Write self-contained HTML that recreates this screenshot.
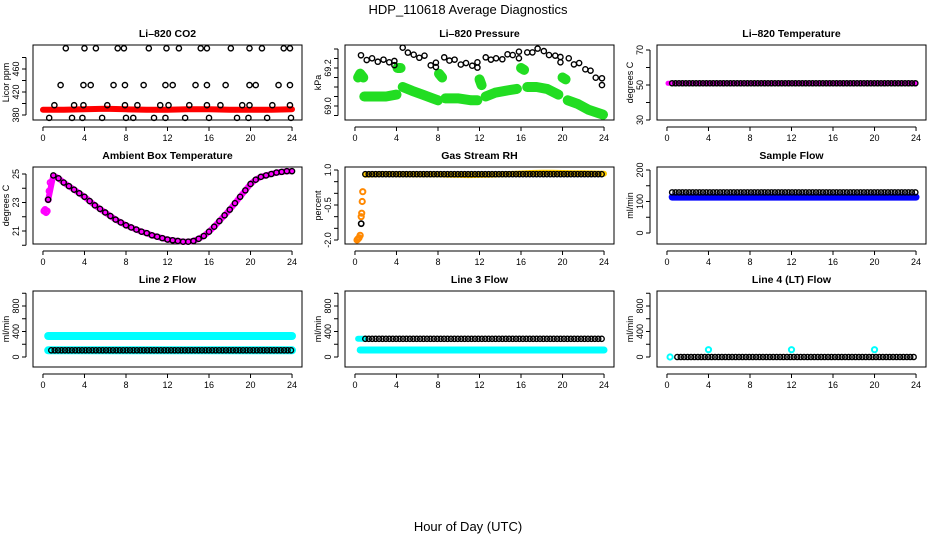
<!DOCTYPE html>
<html><head><meta charset="utf-8">
<style>
html,body{margin:0;padding:0;background:#fff;}
svg{display:block;font-family:"Liberation Sans",Arial,sans-serif;}
</style></head>
<body>
<svg id="chart" width="936" height="540" viewBox="0 0 936 540" xmlns="http://www.w3.org/2000/svg">
<text x="468" y="14" text-anchor="middle" font-size="13">HDP_110618  Average Diagnostics</text>
<text x="468" y="531" text-anchor="middle" font-size="13">Hour of Day (UTC)</text>
</svg>
<script>
// ---- data ----
const xTicks = [0,4,8,12,16,20,24];
const co2TopHrs = [2.2,4.0,5.1,7.2,7.8,10.2,11.9,13.1,15.2,15.8,18.1,19.9,21.1,23.2,23.8];
const co2MidHrs = [1.7,3.9,4.6,6.8,7.9,9.7,11.8,12.5,14.7,15.8,17.6,19.9,20.5,22.7,23.8];
const co2LowHrs = [1.1,3.0,3.9,6.2,7.9,9.1,11.3,12.1,14.1,15.8,17.1,19.2,19.9,22.1,23.8];
const co2BotHrs = [0.6,2.8,3.8,5.7,8.0,8.7,10.7,11.8,13.7,16.0,18.7,19.8,21.6,23.9];
const co2Levels = [496,432,397,375];
const co2RedHrs = [0,2,4,6,8,10,12,14,16,18,20,22,24];
const co2RedVals = [389,389,390,391,390,389,389,390,390,389,389,389,390];

const presHrs = [0.58,1.13,1.65,2.2,2.75,3.3,3.8,3.8,4.6,5.1,5.66,6.2,6.7,7.3,7.8,7.8,8.6,9.1,9.6,10.2,10.7,11.3,11.8,11.8,12.6,13.1,13.6,14.2,14.7,15.2,15.8,15.8,16.6,17.1,17.6,18.2,18.7,19.3,19.8,19.8,20.6,21.1,21.6,22.2,22.7,23.2,23.8,23.8];
const presVals = [69.267,69.242,69.251,69.233,69.244,69.230,69.237,69.215,69.307,69.281,69.270,69.254,69.265,69.214,69.228,69.205,69.256,69.239,69.244,69.218,69.226,69.212,69.230,69.202,69.256,69.244,69.251,69.246,69.272,69.268,69.286,69.251,69.282,69.282,69.302,69.289,69.268,69.265,69.258,69.230,69.251,69.219,69.226,69.193,69.186,69.149,69.146,69.110];
const greenSegs = [
 {h:[0.3,0.5,0.8], v:[69.15,69.17,69.15]},
 {h:[0.9,2,3,4], v:[69.05,69.05,69.05,69.06]},
 {h:[4.1,4.4], v:[69.20,69.20]},
 {h:[4.6,5.5,6.5,7.5,8], v:[69.10,69.08,69.06,69.04,69.03]},
 {h:[8.1,8.4], v:[69.17,69.15]},
 {h:[8.7,10,11.2,11.8], v:[69.04,69.04,69.03,69.03]},
 {h:[12,12.2], v:[69.14,69.11]},
 {h:[12.6,13.5,14.5,15.6], v:[69.05,69.07,69.08,69.09]},
 {h:[16,16.3], v:[69.20,69.19]},
 {h:[16.6,17.5,18.5,19.6], v:[69.10,69.10,69.09,69.06]},
 {h:[20,20.3], v:[69.15,69.14]},
 {h:[20.5,21.5,22.5,23.9], v:[69.03,69.01,68.98,68.955]}
];

const tempHrs = [0.1,24];
const tempVals = [51,51];

const ambHrs = [0.5,1,1.5,2,2.5,3,3.5,4,4.5,5,5.5,6,6.5,7,7.5,8,8.5,9,9.5,10,10.5,11,11.5,12,12.5,13,13.5,14,14.5,15,15.5,16,16.5,17,17.5,18,18.5,19,19.5,20,20.5,21,21.5,22,22.5,23,23.5,24];
const ambVals = [23.2,24.9,24.7,24.4,24.15,23.9,23.65,23.4,23.1,22.8,22.55,22.3,22.05,21.8,21.6,21.4,21.25,21.1,20.95,20.85,20.7,20.6,20.5,20.4,20.35,20.3,20.25,20.25,20.3,20.45,20.65,20.95,21.3,21.7,22.1,22.5,22.95,23.4,23.85,24.3,24.6,24.8,24.9,25.0,25.1,25.15,25.2,25.2];
const ambEarlyHrs = [0.1,0.2,0.3,0.4,0.5,0.6,0.7];
const ambEarlyVals = [22.4,22.5,22.3,22.4,23.2,23.8,24.4];

const rhHrs = [0.6,1,2,3,4,5,6,7,8,9,10,11,12,13,14,15,16,17,18,19,20,21,22,23,24];
const rhVals = [-1.3,0.8,0.82,0.83,0.82,0.82,0.81,0.81,0.81,0.8,0.79,0.78,0.79,0.8,0.81,0.83,0.85,0.87,0.88,0.88,0.87,0.86,0.86,0.85,0.84];
const rhEarlyHrs = [0.2,0.3,0.4,0.5,0.6,0.65,0.7,0.75];
const rhEarlyVals = [-2.0,-1.95,-1.9,-1.8,-1.0,-0.85,-0.35,0.07];

const sfBlackVals = [129,129];
const sfBlueVals = [114,114];
const l2CyanVals = [330,330];
const l2BlackVals = [105,105];
const l3BlackVals = [285,285];
const l3CyanVals = [110,110];
const l4Vals = [0,0];
const l4SpikeHrs = [4,12,20];
const l4SpikeVals = [115,115,115];
const fullHrs = [0.5,24];

// ---- layout ----
const svg = document.getElementById('chart');
const NS = 'http://www.w3.org/2000/svg';
const colX = [33,345,657], W = 269;
const rowY = [[45,120],[167,244],[291,367]];
function mk(tag, attrs, parent){ const e=document.createElementNS(NS,tag); for(const k in attrs) e.setAttribute(k,attrs[k]); (parent||svg).appendChild(e); return e; }

function panel(c, r, title, ylab, yA, yB, yTicks, yLabels, name){
  const g = mk('g',{});
  
  
  const x0=colX[c], x1=x0+W, y0=rowY[r][0], y1=rowY[r][1];
  const xs = h => x0 + (h+0.96)/25.92*W;
  const ys = v => yA[1] + (v-yA[0])*(yB[1]-yA[1])/(yB[0]-yA[0]);
  const box = mk('rect',{x:x0,y:y0,width:W,height:y1-y0,fill:'none',stroke:'#000','stroke-width':1},g);
  
  
  const t = mk('text',{x:x0+W/2,y:y0-8,'text-anchor':'middle','font-size':10.5,'font-weight':'bold'},g);
  t.textContent = title;
  
  
  const xl = mk('line',{x1:xs(0),x2:xs(24),y1:y1+7,y2:y1+7,stroke:'#000'},g);
  
  
  xTicks.forEach(v=>{
    mk('line',{x1:xs(v),x2:xs(v),y1:y1+7,y2:y1+11,stroke:'#000'},g);
    const tt = mk('text',{x:xs(v),y:y1+21,'text-anchor':'middle','font-size':9},g);
    tt.textContent = v;
    
    
  });
  const ax = x0-7;
  const yl = mk('line',{x1:ax,x2:ax,y1:ys(yTicks[0]),y2:ys(yTicks[yTicks.length-1]),stroke:'#000'},g);
  
  
  yTicks.forEach((v,i)=>{
    mk('line',{x1:ax-4,x2:ax,y1:ys(v),y2:ys(v),stroke:'#000'},g);
    if(yLabels[i]!==''){
      const tt = mk('text',{x:0,y:0,'text-anchor':'middle','font-size':9,transform:`translate(${ax-7},${ys(v)}) rotate(-90)`},g);
      tt.textContent = yLabels[i];
      
      
    }
  });
  const yt = mk('text',{x:0,y:0,'text-anchor':'middle','font-size':9,transform:`translate(${x0-24},${(y0+y1)/2}) rotate(-90)`},g);
  yt.textContent = ylab;
  
  
  return {g,xs,ys};
}
function circles(p, hrs, vals, color, r, sw, name){
  hrs.forEach((h,i)=>{
    const c = mk('circle',{cx:p.xs(h),cy:p.ys(vals[i]),r:r||2.6,fill:'none',stroke:color,'stroke-width':sw||1.4},p.g);
    
    
  });
}
function band(p, hrs, vals, color, w, name){
  const pts = hrs.map((h,i)=>p.xs(h).toFixed(1)+','+p.ys(vals[i]).toFixed(1)).join(' ');
  const l = mk('polyline',{points:pts,fill:'none',stroke:color,'stroke-width':w,'stroke-linejoin':'round','stroke-linecap':'round'},p.g);
  
  
}
// evenly spaced circles along a constant/explicit series
function dense(p, hrs2, vals2, step, color, name){
  const hs=[], vs=[];
  for(let h=hrs2[0]; h<=hrs2[1]+1e-6; h+=step){ hs.push(h); vs.push(vals2[0]); }
  circles(p, hs, vs, color, 2.6, 1.4, name);
}

// Li-820 CO2
let p = panel(0,0,'Li\u2013820 CO2','Licor ppm',[380,115],[420,92],[380,400,420,440,460,480],['380','','420','','460',''],'co2');
band(p, co2RedHrs, co2RedVals, '#ff0000', 6, 'co2-red-series');
[co2TopHrs,co2MidHrs,co2LowHrs,co2BotHrs].forEach((hs,k)=>circles(p, hs, hs.map(()=>co2Levels[k]), '#000', 2.6, 1.4, 'co2-point'));

// Pressure
p = panel(1,0,'Li\u2013820 Pressure','kPa',[69.0,106],[69.2,68],[68.95,69.0,69.05,69.1,69.15,69.2,69.25,69.3],['','69.0','','','','69.2','',''],'pressure');
greenSegs.forEach(s=>band(p, s.h, s.v, '#22dd22', 10, 'pressure-green-series'));
circles(p, presHrs, presVals, '#000', 2.6, 1.4, 'pressure-point');

// Temperature
p = panel(2,0,'Li\u2013820 Temperature','degrees C',[50,85],[70,50],[30,40,50,60,70],['30','','50','','70'],'li820-temp');
band(p, tempHrs, tempVals, '#ff00ff', 5, 'temp-magenta-series');
dense(p, [0.5,24], tempVals, 0.33, '#000', 'temp-point');

// Ambient
p = panel(0,1,'Ambient Box Temperature','degrees C',[21,231],[25,174],[20,21,22,23,24,25],['','21','','23','','25'],'ambient');
band(p, ambHrs, ambVals, '#ff00ff', 6, 'ambient-magenta-series');
circles(p, ambEarlyHrs, ambEarlyVals, '#ff00ff', 2.6, 2, 'ambient-early-point');
circles(p, ambHrs, ambVals, '#000', 2.6, 1.4, 'ambient-point');

// RH
p = panel(1,1,'Gas Stream RH','percent',[1.0,170],[-2.0,240],[1.0,0.5,0.0,-0.5,-1.0,-1.5,-2.0],['1.0','','','-0.5','','','-2.0'],'rh');
band(p, rhHrs.slice(1), rhVals.slice(1), '#ffcc00', 6, 'rh-yellow-series');
circles(p, rhEarlyHrs, rhEarlyVals, '#ff8800', 2.6, 2, 'rh-early-point');
dense(p, [1,24], [0.82], 0.33, '#000', 'rh-point');
circles(p, rhHrs.slice(0,1), rhVals.slice(0,1), '#000', 2.6, 1.6, 'rh-early-black-point');

// Sample flow
p = panel(2,1,'Sample Flow','ml/min',[0,233],[200,170],[0,50,100,150,200],['0','','100','','200'],'sample-flow');
band(p, fullHrs, sfBlueVals, '#0000ff', 7, 'sample-flow-blue-series');
dense(p, [0.5,24], sfBlackVals, 0.33, '#000', 'sample-flow-point');

// Line 2
p = panel(0,2,'Line 2 Flow','ml/min',[0,357],[800,306],[0,200,400,600,800,1000],['0','','400','','800',''],'line2');
band(p, fullHrs, l2CyanVals, '#00ffff', 8, 'line2-cyan-series');
band(p, fullHrs, l2BlackVals, '#00ffff', 8, 'line2-cyan-low-series');
dense(p, [0.8,24], l2BlackVals, 0.33, '#000', 'line2-point');

// Line 3
p = panel(1,2,'Line 3 Flow','ml/min',[0,357],[800,306],[0,200,400,600,800,1000],['0','','400','','800',''],'line3');
band(p, fullHrs, l3CyanVals, '#00ffff', 7, 'line3-cyan-series');
band(p, [0.3,1], l3BlackVals, '#00ffff', 6, 'line3-cyan-top');
dense(p, [1,24], l3BlackVals, 0.33, '#000', 'line3-point');

// Line 4
p = panel(2,2,'Line 4 (LT) Flow','ml/min',[0,357],[800,306],[0,200,400,600,800,1000],['0','','400','','800',''],'line4');
circles(p, [0.3], [0], '#00ffff', 2.6, 2, 'line4-cyan-point');
dense(p, [1,24], l4Vals, 0.33, '#000', 'line4-point');
circles(p, l4SpikeHrs, l4SpikeVals, '#00ffff', 2.6, 2, 'line4-spike');
</script>
</body></html>
